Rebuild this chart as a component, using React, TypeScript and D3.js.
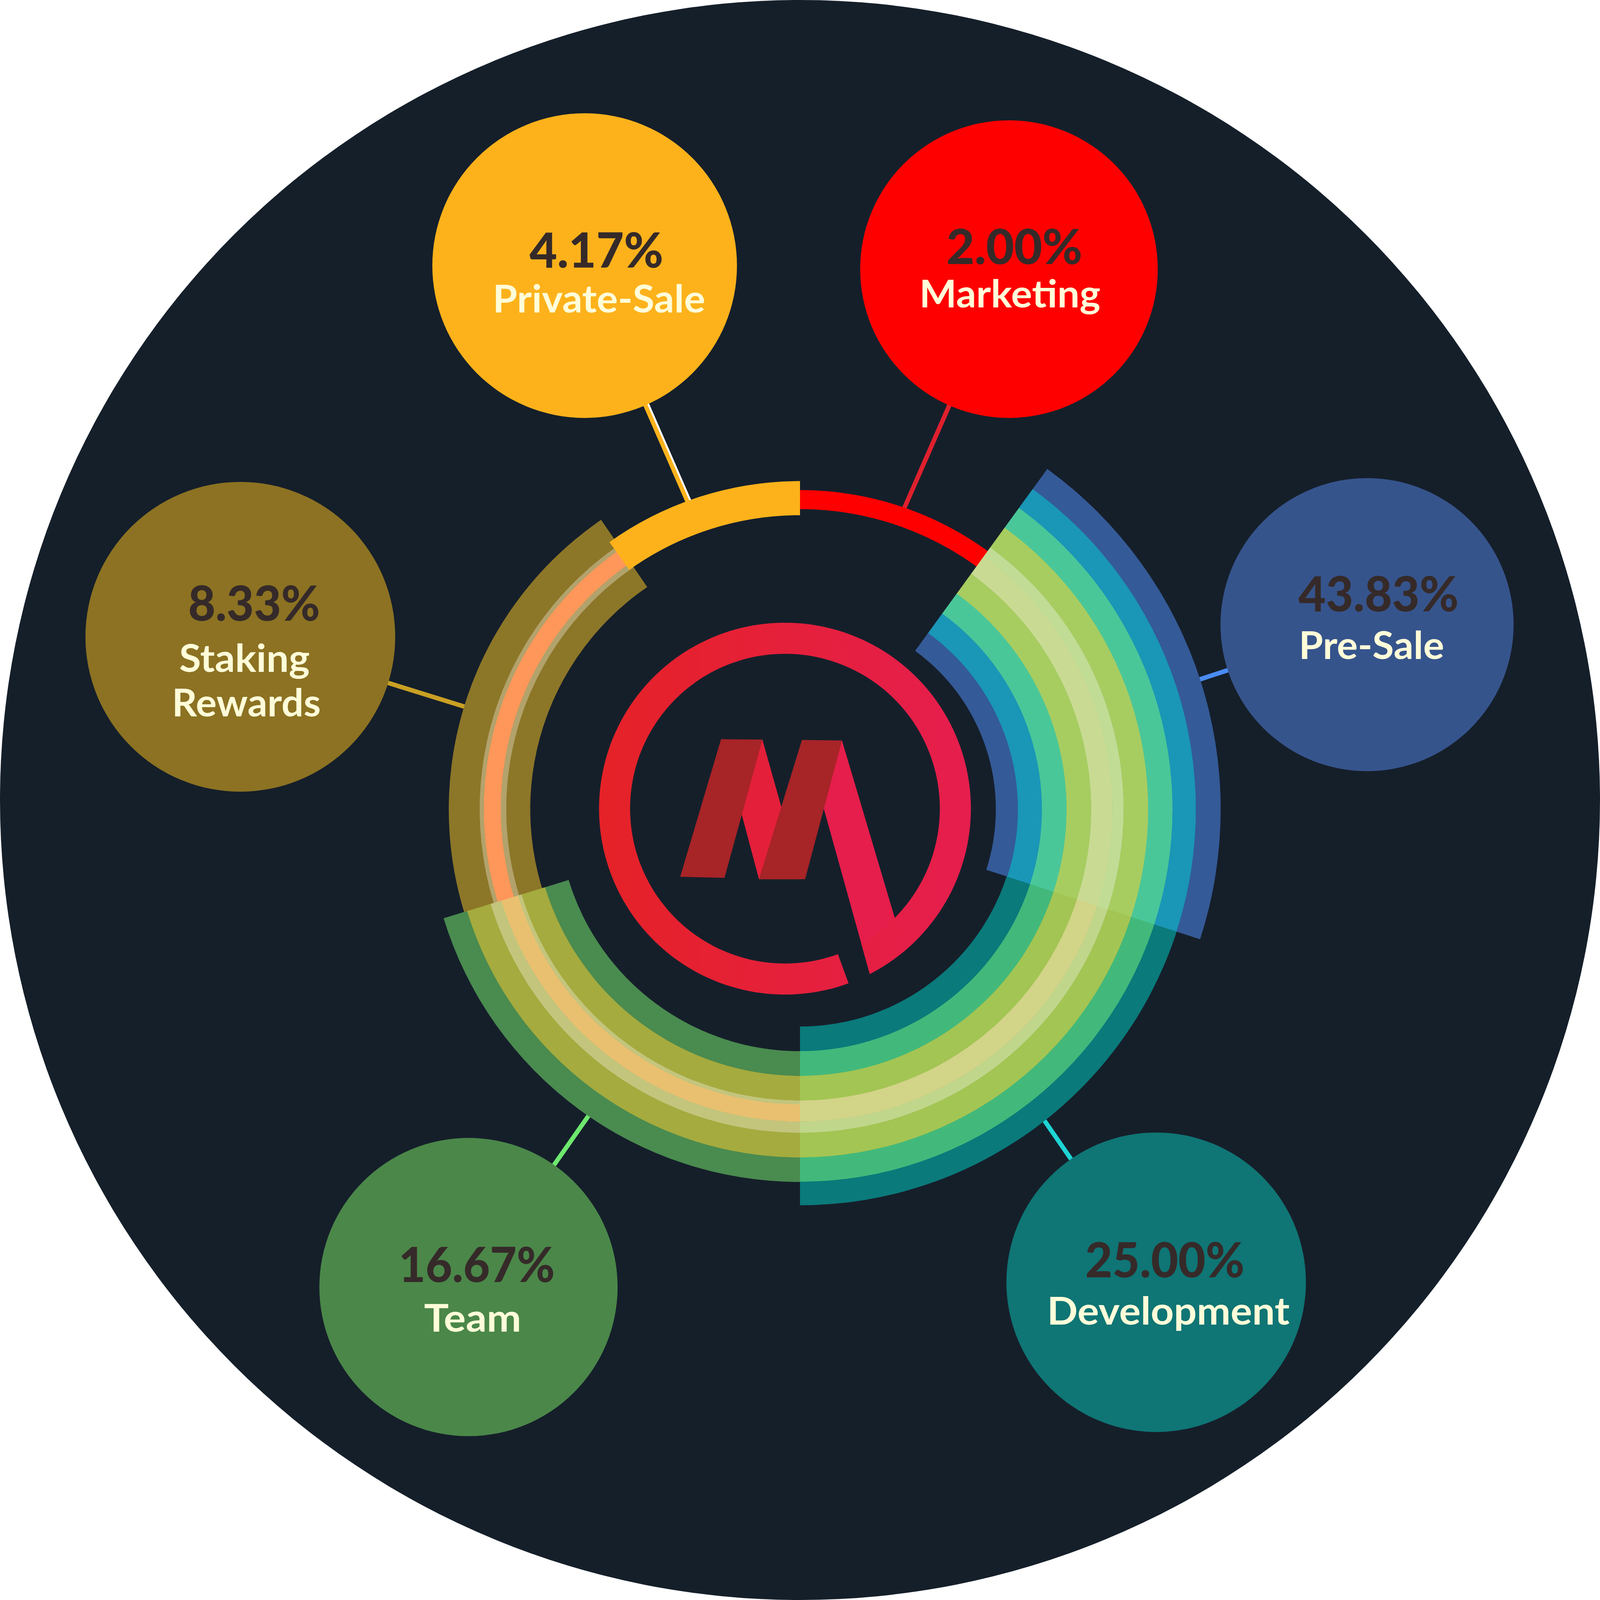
import React from 'react'
import * as d3 from 'd3'

// ---- data ----
const categories = ['Private-Sale', 'Marketing', 'Pre-Sale', 'Development', 'Team', 'Staking Rewards']
const shares = [4.17, 2.0, 43.83, 25.0, 16.67, 8.33]
const bubbleColors = ['#fdb21b', '#fe0000', '#36548c', '#0f7575', '#4b8749', '#8c7222']
const lineColors = ['#fdb21b', '#e0202e', '#4a8cf5', '#1ed4d4', '#6ee86e', '#c9a024']

// ---- layout (pixels of the 5000 x 5000 canvas) ----
const SIZE = 5000
const CX = 2500
const CY = 2529

// band stacks for each segment: [inner radius, outer radius, colour]
type Band = [number, number, string]
const preSaleBands: Band[] = [
  [612, 681, '#345a97'],
  [681, 756, '#1a96b7'],
  [756, 833, '#4ac799'],
  [833, 910, '#a7cd61'],
  [910, 976, '#c9db93'],
  [976, 1011, '#c1dc95'],
  [1011, 1088, '#a7cd61'],
  [1088, 1164, '#4ac799'],
  [1164, 1237, '#1a96b7'],
  [1237, 1314, '#345a97'],
]
const developmentBands: Band[] = [
  [679, 756, '#0a7a7b'],
  [756, 833, '#42b97b'],
  [833, 910, '#a3c553'],
  [910, 976, '#d2d488'],
  [976, 1011, '#c0d68b'],
  [1011, 1088, '#a3c553'],
  [1088, 1164, '#42b97b'],
  [1164, 1237, '#0a7a7b'],
]
const teamBands: Band[] = [
  [756, 833, '#4a8b4f'],
  [833, 910, '#a5ab3e'],
  [910, 922, '#c3c57c'],
  [922, 976, '#e9c070'],
  [976, 1011, '#c3c57c'],
  [1011, 1088, '#a5ab3e'],
  [1088, 1164, '#4a8b4f'],
]
const stakingBands: Band[] = [
  [843, 918, '#8c7628'],
  [918, 935, '#b2a26b'],
  [935, 988, '#ff975a'],
  [988, 1001, '#b2a26b'],
  [1001, 1097, '#8c7628'],
]
const privateBands: Band[] = [[919, 1025, '#fdb21b']]
const marketingBands: Band[] = [[938, 997, '#fe0000']]

// draw order, with angle span in degrees (clockwise from 12 o'clock)
const segments = [
  { key: 'Marketing', start: 0, end: 40, bands: marketingBands },
  { key: 'Development', start: 104, end: 180, bands: developmentBands },
  { key: 'Pre-Sale', start: 36, end: 108, bands: preSaleBands },
  { key: 'Staking Rewards', start: 240, end: 325.5, bands: stakingBands },
  { key: 'Team', start: 180, end: 253, bands: teamBands },
  { key: 'Private-Sale', start: -35.5, end: 0, bands: privateBands },
]

// bubble centre, radius; connector anchor on the ring (angle, radius)
const bubbleX = [1827, 3153, 4272, 3613, 1464, 751]
const bubbleY = [830, 841, 1952, 4007, 4022, 1990]
const bubbleR = [476, 465, 458, 468, 466, 484]
const anchorAngle = [-20, 19, 72, 141.8, 214.6, 287]
const anchorRadius = [1005, 975, 1290, 1215, 1140, 1080]

// text placement: [centre x, baseline y, width]
const pctText: [number, number, number][] = [
  [1864, 836, 418],
  [3170, 825, 425],
  [4308, 1911, 501],
  [3640, 3992, 498],
  [1490, 4006, 488],
  [794, 1940, 412],
]
const labelLines: [string, number, number, number][][] = [
  [['Private-Sale', 1872, 976, 664]],
  [['Marketing', 3156, 961, 566]],
  [['Pre-Sale', 4286, 2059, 454]],
  [['Development', 3651, 4140, 758]],
  [['Team', 1477, 4161, 304]],
  [
    ['Staking', 764, 2099, 408],
    ['Rewards', 770, 2239, 465],
  ],
]

// logo: ring + "M" strokes, normalised to the ring's outer radius
const LOGO_X = 2453
const LOGO_Y = 2527
const LOGO_R = 581
const LOGO_INNER = 0.833
const logoLight: [number, number][][] = [
  [
    [-0.3395, -0.3709],
    [-0.1213, -0.3709],
    [0.0899, 0.3795],
    [-0.1398, 0.3795],
  ],
  [
    [0.107, -0.3666],
    [0.3067, -0.3666],
    [0.5906, 0.5877],
    [0.4565, 0.8902],
  ],
]
const logoDark: [number, number][][] = [
  [
    [-0.3438, -0.3738],
    [-0.1213, -0.3709],
    [-0.3252, 0.3723],
    [-0.5635, 0.3666],
  ],
  [
    [0.0913, -0.3695],
    [0.3067, -0.3666],
    [0.1084, 0.3795],
    [-0.1398, 0.3795],
  ],
]

const rad = (deg: number) => (deg * Math.PI) / 180
// clockwise-from-12 degrees -> canvas angle used by d3.path
const phi = (deg: number) => rad(deg - 90)
const arc = d3.arc<any>()
const polygon = d3
  .line<[number, number]>()
  .x(p => LOGO_X + p[0] * LOGO_R)
  .y(p => LOGO_Y + p[1] * LOGO_R)
  .curve(d3.curveLinearClosed)

// ring: radial cut at the gap, cut along the right leg of the M at the other end
function ringPath() {
  const ro = LOGO_R
  const ri = LOGO_R * LOGO_INNER
  const p = d3.path()
  p.moveTo(LOGO_X + ro * Math.cos(phi(160)), LOGO_Y + ro * Math.sin(phi(160)))
  p.arc(LOGO_X, LOGO_Y, ro, phi(160), phi(360 + 152.85), false)
  p.lineTo(LOGO_X + ri * Math.cos(phi(360 + 150.5)), LOGO_Y + ri * Math.sin(phi(360 + 150.5)))
  p.arc(LOGO_X, LOGO_Y, ri, phi(360 + 150.5), phi(160), true)
  p.closePath()
  return p.toString()
}

const FONT = 'Lato, "Open Sans", sans-serif'

const App: React.FC = () => {
  return (
    <svg
      viewBox={`0 0 ${SIZE} ${SIZE}`}
      style={{ position: 'absolute', left: 0, top: 0, width: '100vw', height: '100vh', background: '#ffffff' }}
    >
      <defs>
        <linearGradient id="ringGrad" gradientUnits="userSpaceOnUse" x1={LOGO_X - LOGO_R} y1={0} x2={LOGO_X + LOGO_R} y2={0}>
          <stop offset="0" stopColor="#e52227" />
          <stop offset="1" stopColor="#e51e4e" />
        </linearGradient>
      </defs>

      <circle cx={SIZE / 2} cy={SIZE / 2} r={SIZE / 2} fill="#151f2a" />

      {/* connectors, under arcs and bubbles */}
      {categories.map((c, i) => {
        const a = rad(anchorAngle[i])
        const x1 = CX + Math.sin(a) * anchorRadius[i]
        const y1 = CY - Math.cos(a) * anchorRadius[i]
        const x2 = bubbleX[i]
        const y2 = bubbleY[i]
        return (
          <g key={`line-${c}`}>
            <line x1={x1} y1={y1} x2={x2} y2={y2} stroke={lineColors[i]} strokeWidth={14} />
            {i === 0 ? <line x1={x1 + 10} y1={y1} x2={x2 + 10} y2={y2} stroke="#ffffff" strokeWidth={6} /> : null}
          </g>
        )
      })}

      {/* banded arcs */}
      <g transform={`translate(${CX},${CY})`}>
        {segments.map(s => (
          <g key={s.key}>
            {s.bands.map(([r0, r1, color], j) => (
              <path
                key={j}
                d={arc({ innerRadius: r0, outerRadius: r1 + 0.6, startAngle: rad(s.start), endAngle: rad(s.end) }) || ''}
                fill={color}
              />
            ))}
          </g>
        ))}
      </g>

      {/* logo */}
      <g>
        {logoLight.map((p, i) => (
          <path key={`l${i}`} d={polygon(p) || ''} fill={i === 0 ? '#e41f3a' : '#e51e4b'} />
        ))}
        <path d={ringPath()} fill="url(#ringGrad)" />
        {logoDark.map((p, i) => (
          <path key={`d${i}`} d={polygon(p) || ''} fill="#a72427" />
        ))}
      </g>

      {/* bubbles */}
      {categories.map((c, i) => (
        <g key={`bubble-${c}`}>
          <circle cx={bubbleX[i]} cy={bubbleY[i]} r={bubbleR[i]} fill={bubbleColors[i]} />
          <text
            x={pctText[i][0]}
            y={pctText[i][1]}
            textAnchor="middle"
            textLength={pctText[i][2]}
            lengthAdjust="spacingAndGlyphs"
            fontFamily={FONT}
            fontWeight={900}
            fontSize={152}
            fill="#352a29"
          >
            {`${shares[i].toFixed(2)}%`}
          </text>
          {labelLines[i].map(([t, x, y, w]) => (
            <text
              key={t}
              x={x}
              y={y}
              textAnchor="middle"
              textLength={w}
              lengthAdjust="spacingAndGlyphs"
              fontFamily={FONT}
              fontWeight={700}
              fontSize={120}
              fill="#fffdd9"
            >
              {t}
            </text>
          ))}
        </g>
      ))}
    </svg>
  )
}

export default App
